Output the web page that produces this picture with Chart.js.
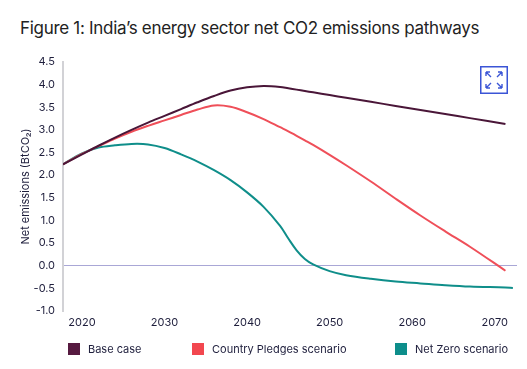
<!DOCTYPE html>
<html>
<head>
<meta charset="utf-8">
<script src="https://cdn.jsdelivr.net/npm/chart.js@4"></script>
<style>
  html, body { margin: 0; padding: 0; background: #ffffff; }
  body { width: 527px; height: 369px; position: relative; overflow: hidden; font-family: Inter, "Noto Sans", sans-serif; }
  #title { position: absolute; left: 20px; top: 18px; font-size: 17px; color: #222222; white-space: nowrap; letter-spacing: -0.3px; }
  #wrap { position: absolute; left: 0; top: 0; width: 527px; height: 369px; }
  #legend { position: absolute; top: 342px; left: 0; width: 527px; height: 16px; font-size: 11px; color: #1e1e3c; }
  .item { position: absolute; top: 0; display: flex; align-items: center; white-space: nowrap; }
  .box { width: 12px; height: 12px; margin-right: 8px; }
  #expand { position: absolute; left: 480px; top: 66px; }
</style>
</head>
<body>
<div id="title">Figure 1: India’s energy sector net CO2 emissions pathways</div>
<div id="wrap"><canvas id="c" width="527" height="369"></canvas></div>
<div id="legend"></div>
<svg id="expand" width="28" height="28" viewBox="0 0 28 28">
  <rect x="0.75" y="0.75" width="26.5" height="26.5" fill="none" stroke="#3b55d6" stroke-width="1.5"/>
  <g stroke="#3b55d6" stroke-width="1.4" fill="none">
    <path d="M6 6 L11 11 M6 6 L6 10 M6 6 L10 6"/>
    <path d="M22 6 L17 11 M22 6 L22 10 M22 6 L18 6"/>
    <path d="M6 22 L11 17 M6 22 L6 18 M6 22 L10 22"/>
    <path d="M22 22 L17 17 M22 22 L22 18 M22 22 L18 22"/>
  </g>
</svg>
<script>
const years = [2017.7, 2020, 2022, 2024, 2026, 2028, 2030, 2032, 2034, 2036, 2038, 2040, 2042, 2044, 2045, 2046, 2047, 2048, 2050, 2052, 2055, 2058, 2061, 2064, 2067, 2071.3, 2072.2];
const baseCase = [2.24, 2.46, 2.65, 2.83, 3.00, 3.16, 3.31, 3.46, 3.61, 3.75, 3.87, 3.94, 3.97, 3.95, 3.92, 3.89, 3.86, 3.83, 3.77, 3.71, 3.62, 3.53, 3.44, 3.35, 3.26, 3.13, null];
const countryPledges = [2.24, 2.47, 2.64, 2.81, 2.96, 3.09, 3.21, 3.33, 3.45, 3.54, 3.51, 3.39, 3.24, 3.06, 2.97, 2.87, 2.77, 2.67, 2.45, 2.22, 1.86, 1.48, 1.11, 0.76, 0.42, -0.11, null];
const netZero = [2.24, 2.48, 2.61, 2.66, 2.69, 2.68, 2.60, 2.46, 2.30, 2.11, 1.89, 1.62, 1.30, 0.88, 0.60, 0.34, 0.15, 0.03, -0.12, -0.21, -0.29, -0.35, -0.39, -0.43, -0.46, -0.48, -0.49];
const seriesNames = ["Base case", "Country Pledges scenario", "Net Zero scenario"];
const xTicks = [2020, 2030, 2040, 2050, 2060, 2070];
const yTitle = "Net emissions (BtCO₂)";

const lineColors = ["#4a1638", "#ef4f59", "#0f8e8a"];
const boxColors = ["#561a40", "#f2474f", "#0d8e8b"];
const legendLeft = [68, 192, 395];

function pts(arr) { return years.map((x, i) => ({ x: x, y: arr[i] })); }

const textColor = "#1e1e3c";
const font = { family: "Inter, 'Noto Sans', sans-serif", size: 11 };

new Chart(document.getElementById("c"), {
  type: "line",
  data: {
    datasets: [baseCase, countryPledges, netZero].map((arr, i) => ({
      label: seriesNames[i],
      data: pts(arr),
      borderColor: lineColors[i],
      backgroundColor: lineColors[i],
      borderWidth: 2,
      pointRadius: 0,
      tension: 0.35,
      spanGaps: false
    }))
  },
  options: {
    responsive: false,
    animation: false,
    layout: { padding: { left: 0, right: 10, top: 62, bottom: 0 } },
    plugins: { legend: { display: false }, tooltip: { enabled: false } },
    scales: {
      x: {
        type: "linear",
        min: 2017.7,
        max: 2072.7,
        afterBuildTicks: (s) => { s.ticks = xTicks.map(v => ({ value: v })); },
        afterFit: (s) => { s.height = 58; },
        grid: { display: false, drawTicks: false },
        border: { display: false },
        ticks: { color: textColor, font: font, padding: 5, maxRotation: 0, callback: (v) => String(v) }
      },
      y: {
        min: -1,
        max: 4.5,
        afterFit: (s) => { s.width = 63; },
        ticks: { stepSize: 0.5, color: textColor, font: font, padding: 8, callback: (v) => Number(v).toFixed(1) },
        grid: {
          drawTicks: false,
          lineWidth: 1,
          color: (ctx) => (ctx.tick && ctx.tick.value === 0) ? "#a9a7d6" : "rgba(0,0,0,0)"
        },
        border: { display: true, color: "#d2d2d6", width: 2 },
        title: { display: true, text: yTitle, color: textColor, font: font, padding: { top: 19, bottom: 0 } }
      }
    }
  }
});

const lg = document.getElementById("legend");
seriesNames.forEach((n, i) => {
  const d = document.createElement("div");
  d.className = "item";
  d.style.left = legendLeft[i] + "px";
  const b = document.createElement("div");
  b.className = "box";
  b.style.background = boxColors[i];
  const t = document.createElement("span");
  t.textContent = n;
  d.appendChild(b); d.appendChild(t);
  lg.appendChild(d);
});
</script>
</body>
</html>
